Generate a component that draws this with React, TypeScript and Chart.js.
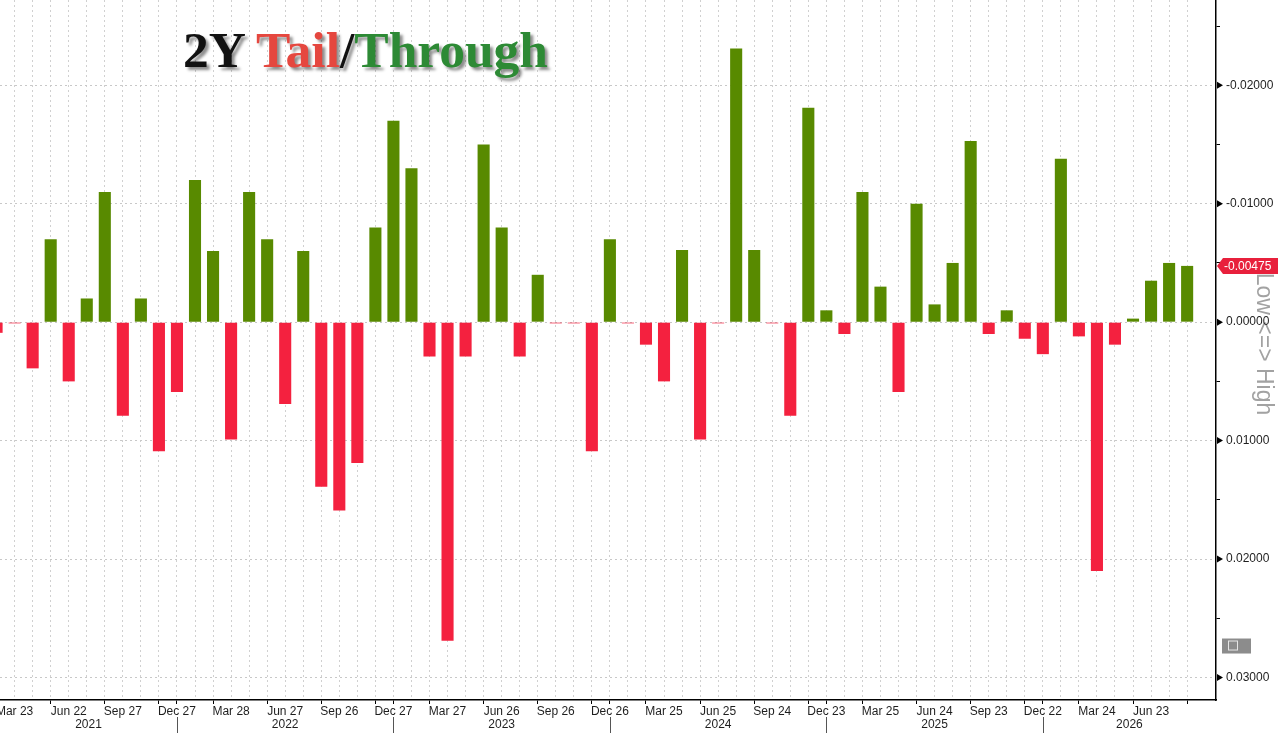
import { useEffect, useRef } from "react";
import { Chart, registerables } from "chart.js";
import type { Plugin } from "chart.js";

Chart.register(...registerables);

// 2Y auction tail (+) / through (-), one bar per monthly auction
const auctionValues = [
  0.0009, 0.0001, 0.0039, -0.007, 0.005, -0.002, -0.011, 0.0079, -0.002, 0.0109,
  0.0059, -0.012, -0.006, 0.0099, -0.011, -0.007, 0.0069, -0.006, 0.0139, 0.0159,
  0.0119, -0.008, -0.017, -0.013, 0.0029, 0.0269, 0.0029, -0.015, -0.008, 0.0029,
  -0.004, 0.0001, 0.0001, 0.0109, -0.007, 0.0001, 0.0019, 0.005, -0.0061, 0.0099,
  0.0001, -0.0231, -0.0061, 0.0001, 0.0079, -0.0181, -0.001, 0.001, -0.011, -0.003,
  0.0059, -0.01, -0.0015, -0.005, -0.0153, 0.001, -0.001, 0.0014, 0.0027, -0.0138,
  0.0012, 0.021, 0.0019, -0.0003, -0.0035, -0.005, -0.00475,
];

// quarterly labels, on auctions 1, 4, 7, ... (0-based)
const xTickLabels = [
  "Mar 23", "Jun 22", "Sep 27", "Dec 27", "Mar 28", "Jun 27", "Sep 26", "Dec 27",
  "Mar 27", "Jun 26", "Sep 26", "Dec 26", "Mar 25", "Jun 25", "Sep 24", "Dec 23",
  "Mar 25", "Jun 24", "Sep 23", "Dec 22", "Mar 24", "Jun 23",
];

const yearLabels = ["2021", "2022", "2023", "2024", "2025", "2026"];

const yTickValues = [
  -0.025, -0.02, -0.015, -0.01, -0.005, 0, 0.005, 0.01, 0.015, 0.02, 0.025, 0.03,
];

const TAIL = "#f4213f";
const THROUGH = "#588a00";
const FONT = "'Liberation Sans', Arial, sans-serif";

const isMajor = (v: number) => Math.abs(v * 100 - Math.round(v * 100)) < 1e-9;
const labelIndex = (k: number) => 1 + 3 * k;
const yearBreaks = xTickLabels
  .map((l, k) => (l.startsWith("Dec") ? labelIndex(k) : -1))
  .filter((i) => i >= 0);

const decorations: Plugin<"bar"> = {
  id: "decorations",
  beforeDraw(chart) {
    const { ctx, chartArea } = chart;
    ctx.save();
    ctx.translate(chartArea.right + 47, (chartArea.top + chartArea.bottom) / 2 - 6);
    ctx.rotate(Math.PI / 2);
    ctx.fillStyle = "#a2a2a2";
    ctx.font = `23px ${FONT}`;
    ctx.textAlign = "center";
    ctx.textBaseline = "middle";
    ctx.fillText("Low <=> High", 0, 0);
    ctx.restore();
  },
  afterDraw(chart) {
    const { ctx, chartArea, scales } = chart;
    const x = scales.x;
    const y = scales.y;
    ctx.save();

    // arrow markers on labelled y ticks
    ctx.fillStyle = "#000";
    yTickValues.filter(isMajor).forEach((v) => {
      const py = y.getPixelForValue(v);
      ctx.beginPath();
      ctx.moveTo(chartArea.right + 1, py - 3.5);
      ctx.lineTo(chartArea.right + 7, py);
      ctx.lineTo(chartArea.right + 1, py + 3.5);
      ctx.closePath();
      ctx.fill();
    });

    // year separators and year labels
    ctx.strokeStyle = "#555";
    ctx.lineWidth = 1;
    yearBreaks.forEach((i) => {
      const px = Math.round(x.getPixelForValue(i)) + 0.5;
      ctx.beginPath();
      ctx.moveTo(px, chartArea.bottom + 17);
      ctx.lineTo(px, chart.height);
      ctx.stroke();
    });
    const bounds = [
      chartArea.left,
      ...yearBreaks.map((i) => x.getPixelForValue(i)),
      chartArea.right,
    ];
    ctx.fillStyle = "#1e1e1e";
    ctx.font = `12px ${FONT}`;
    ctx.textAlign = "center";
    ctx.textBaseline = "middle";
    yearLabels.forEach((yr, k) => {
      ctx.fillText(yr, (bounds[k] + bounds[k + 1]) / 2, chartArea.bottom + 25);
    });

    // last value tag
    const last = auctionValues[auctionValues.length - 1];
    const ly = y.getPixelForValue(last);
    const r = chartArea.right;
    ctx.fillStyle = "#e8203c";
    ctx.beginPath();
    ctx.moveTo(r + 1, ly);
    ctx.lineTo(r + 7, ly - 8);
    ctx.lineTo(chart.width - 2, ly - 8);
    ctx.lineTo(chart.width - 2, ly + 8);
    ctx.lineTo(r + 7, ly + 8);
    ctx.closePath();
    ctx.fill();
    ctx.fillStyle = "#fff";
    ctx.textAlign = "left";
    ctx.fillText(last.toFixed(5), r + 8, ly + 0.5);

    // small grey chart-type button
    const by = y.getPixelForValue(0.0273);
    ctx.fillStyle = "#8c8c8c";
    ctx.fillRect(r + 6, by - 7, 29, 15);
    ctx.strokeStyle = "#e6e6e6";
    ctx.strokeRect(r + 12.5, by - 4.5, 9, 9);
    ctx.restore();
  },
};

export default function App() {
  const canvasRef = useRef<HTMLCanvasElement | null>(null);

  useEffect(() => {
    if (!canvasRef.current) return;

    const chart = new Chart(canvasRef.current, {
      type: "bar",
      data: {
        datasets: [
          {
            data: auctionValues.map((v, i) => ({ x: i, y: v })),
            backgroundColor: auctionValues.map((v) => (v > 0 ? TAIL : THROUGH)),
            borderWidth: 0,
            barPercentage: 0.67,
            categoryPercentage: 1,
          },
        ],
      },
      options: {
        animation: false,
        responsive: true,
        maintainAspectRatio: false,
        layout: { padding: 0 },
        plugins: {
          legend: { display: false },
          tooltip: { enabled: false },
        },
        scales: {
          x: {
            type: "linear",
            offset: false,
            min: 0.19,
            max: 67.6,
            afterBuildTicks: (scale) => {
              scale.ticks = auctionValues.map((_, i) => ({ value: i }));
            },
            afterFit: (scale) => {
              scale.height = 33;
              scale.paddingLeft = 0;
              scale.paddingRight = 0;
            },
            grid: {
              color: "#d0d0d0",
              lineWidth: 1,
              offset: false,
              tickLength: 4,
              tickWidth: 1,
              tickColor: (c) =>
                c.index % 3 === 0 || yearBreaks.includes(c.index) ? "#000" : "transparent",
            },
            border: { color: "#000", width: 1.5, dash: [2, 3] },
            ticks: {
              autoSkip: false,
              maxRotation: 0,
              minRotation: 0,
              padding: 0,
              color: "#1e1e1e",
              font: { family: FONT, size: 12 },
              callback: (value) => {
                const i = Number(value);
                return (i - 1) % 3 === 0 ? xTickLabels[(i - 1) / 3] ?? "" : "";
              },
            },
          },
          y: {
            type: "linear",
            position: "right",
            reverse: true,
            min: -0.0272,
            max: 0.0319,
            afterBuildTicks: (scale) => {
              scale.ticks = yTickValues.map((v) => ({ value: v }));
            },
            afterFit: (scale) => {
              scale.width = 64;
              scale.paddingTop = 0;
              scale.paddingBottom = 0;
            },
            grid: {
              color: (c) => (isMajor(c.tick.value) ? "#c8c8c8" : "transparent"),
              lineWidth: 1,
              tickLength: 4,
              tickColor: (c) => (isMajor(c.tick.value) ? "transparent" : "#000"),
            },
            border: { color: "#000", width: 1.5, dash: [2, 3] },
            ticks: {
              padding: 6,
              color: "#1e1e1e",
              font: { family: FONT, size: 12 },
              callback: (value) => {
                const v = Number(value);
                return isMajor(v) ? (Math.abs(v) < 1e-12 ? 0 : v).toFixed(5) : "";
              },
            },
          },
        },
      },
      plugins: [decorations],
    });

    return () => {
      chart.destroy();
    };
  }, []);

  return (
    <div
      style={{
        position: "absolute",
        left: 0,
        top: 0,
        width: 1280,
        height: 733,
        background: "#fff",
      }}
    >
      <canvas ref={canvasRef} role="img" aria-label="2Y Tail/Through" />
      <div
        style={{
          position: "absolute",
          left: 183,
          top: 24,
          font: "bold 51.5px 'Liberation Serif', 'Times New Roman', serif",
          lineHeight: 1,
          whiteSpace: "nowrap",
          textShadow: "3px 3px 3px rgba(0,0,0,0.45)",
          pointerEvents: "none",
        }}
      >
        <span style={{ color: "#111" }}>2Y </span>
        <span style={{ color: "#e5473f" }}>Tail</span>
        <span style={{ color: "#111" }}>/</span>
        <span style={{ color: "#2d8a35" }}>Through</span>
      </div>
    </div>
  );
}
